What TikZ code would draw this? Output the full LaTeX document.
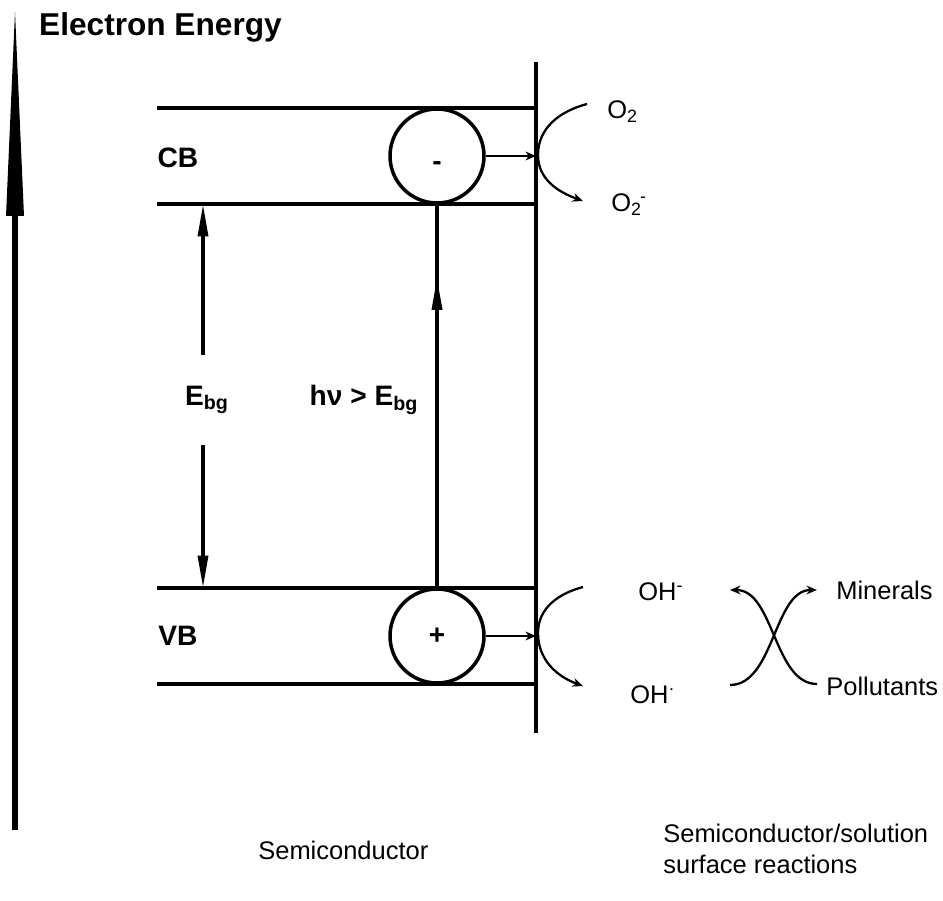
\documentclass[tikz,border=0pt]{standalone}
\usepackage{fontspec}
\setmainfont{Liberation Sans}
\usetikzlibrary{arrows.meta,decorations.markings}

\begin{document}
\begin{tikzpicture}[x=0.02cm, y=-0.02cm,
		band/.style={line width=2pt},
		gap/.style={line width=2pt, -{Triangle[length=0.65cm,width=0.2cm]}},
		flow/.style={line width=1.6pt, -{Stealth[length=6pt,width=5pt]}},
		react/.style={line width=1.3pt, -{Stealth[length=6pt,width=5pt]}},
		carrier/.style={draw, circle, line width=2pt, minimum size=1.88cm, inner sep=0pt, font=\bfseries\fontsize{16}{19}\selectfont},
		lbl/.style={font=\fontsize{14.5}{17.5}\selectfont, anchor=west, inner sep=0pt},
		bold label/.style={font=\bfseries\fontsize{16}{19}\selectfont}]
		\useasboundingbox (0,0) rectangle (943,901);
		
		\coordinate (axisbot) at (15,830);
		\coordinate (axistop) at (15,12);
		\coordinate (axishead) at (15,212);
		\coordinate (surftop) at (536,62);
		\coordinate (surfbot) at (536,733);
		\coordinate (cbtop) at (157,108);
		\coordinate (cbbot) at (157,204);
		\coordinate (vbtop) at (157,588);
		\coordinate (vbbot) at (157,684);
		
		\node[anchor=west, font=\bfseries\fontsize{18}{21}\selectfont] (energy) at (33,27) {Electron Energy};
		\node[bold label] (cb) at (178,158) {CB};
		\node[bold label] (vb) at (178,636) {VB};
		\node[carrier] (e) at (437,156) {\raisebox{-8pt}[0pt][0pt]{-}};
		\node[carrier] (h) at (437,636) {\raisebox{-5pt}[0pt][0pt]{+}};
		\node[bold label] (ebg) at (207,400) {E\textsubscript{bg}};
		\node[bold label] (photon) at (364,400) {hν > E\textsubscript{bg}};
		
		\node[lbl] (o2) at (607,112) {O\textsubscript{2}};
		\node[lbl] (o2r) at (611,205) {O\textsubscript{2}\kern-1pt\textsuperscript{-}};
		\node[lbl] (ohm) at (638,592) {OH\textsuperscript{-}};
		\node[lbl] (ohr) at (630,695) {OH\textsuperscript{·}};
		\node[lbl] (min) at (836,590) {Minerals};
		\node[lbl] (pol) at (826,686) {Pollutants};
		\node[lbl] (semi) at (258,850) {Semiconductor};
		\node[lbl, align=left, anchor=north west] (iface) at (663,824) {Semiconductor/solution\\surface reactions};
		
		\fill (axistop) -- (24,216) -- (6,216) -- cycle;
		\draw[line width=3.4pt] (axisbot) -- (axishead);
		\draw[band] (surftop) -- (surfbot);
		\draw[band] (cbtop) -- (cbtop -| surftop);
		\draw[band] (cbbot) -- (cbbot -| surftop);
		\draw[band] (vbtop) -- (vbtop -| surftop);
		\draw[band] (vbbot) -- (vbbot -| surftop);
		
		\coordinate (gapup) at (203,355);
		\coordinate (gapdown) at (203,445);
		\draw[gap] (gapup) -- (gapup |- cbbot);
		\draw[gap] (gapdown) -- (gapdown |- vbtop);
		\draw[band, postaction={decorate}, decoration={markings, mark=at position 0.81 with {\arrow{Triangle[length=0.65cm,width=0.2cm]}}}] (h.north) -- (e.south);
		
		\draw[flow] (e.east) -- (e.east -| surftop);
		\draw[flow] (h.east) -- (h.east -| surftop);
		
		\coordinate (o2in) at (587,104);
		\coordinate (cbtouch) at (538,155);
		\coordinate (o2out) at (583,201);
		\draw[react] (o2in) to[out=195,in=90] (cbtouch) to[out=-90,in=160] (o2out);
		\coordinate (ohin) at (583,587);
		\coordinate (vbtouch) at (538,633);
		\coordinate (ohout) at (583,686);
		\draw[react] (ohin) to[out=195,in=90] (vbtouch) to[out=-90,in=160] (ohout);
		
		\coordinate (radin) at (730,685);
		\coordinate (minin) at (817,590);
		\coordinate (polin) at (817,684);
		\coordinate (ohret) at (730,590);
		\draw[react] (radin) .. controls (774,685) and (774,590) .. (minin);
		\draw[react] (polin) .. controls (774,684) and (774,590) .. (ohret);
		
	\end{tikzpicture}
\end{document}
